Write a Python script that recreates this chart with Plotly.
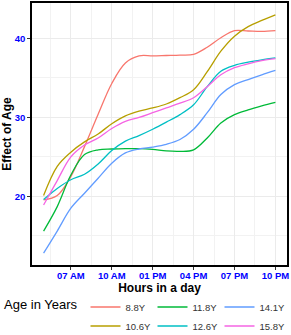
import plotly.graph_objects as go

# ---- data ----
hours = list(range(5, 23))  # 5 AM .. 10 PM

age_labels = ["8.8Y", "10.6Y", "11.8Y", "12.6Y", "14.1Y", "15.8Y"]

y_8_8 = [19.55, 20.1, 22.5, 26.3, 30.4, 34.3, 36.9, 37.8, 37.8, 37.85, 37.9, 38.0, 38.9, 40.1, 41.0, 40.95, 40.9, 41.0]
y_10_6 = [20.1, 23.8, 25.6, 26.9, 27.9, 29.2, 30.2, 30.8, 31.2, 31.7, 32.5, 33.5, 35.8, 38.4, 40.3, 41.5, 42.3, 43.0]
y_11_8 = [15.6, 18.7, 22.7, 25.3, 25.9, 26.0, 26.05, 26.05, 25.95, 25.75, 25.7, 25.9, 27.4, 29.3, 30.35, 30.95, 31.45, 31.9]
y_12_6 = [19.6, 21.0, 22.1, 22.8, 24.1, 25.8, 27.0, 27.7, 28.5, 29.4, 30.35, 31.6, 33.9, 35.85, 36.6, 37.0, 37.3, 37.55]
y_14_1 = [12.8, 15.6, 18.5, 20.4, 22.3, 24.2, 25.5, 26.0, 26.25, 26.6, 27.2, 28.5, 30.6, 32.9, 34.15, 34.8, 35.4, 35.95]
y_15_8 = [18.9, 22.0, 25.0, 26.5, 27.4, 28.6, 29.5, 30.0, 30.6, 31.2, 31.8, 32.5, 33.9, 35.4, 36.3, 36.8, 37.2, 37.45]

series = [y_8_8, y_10_6, y_11_8, y_12_6, y_14_1, y_15_8]

x_tick_vals = [7, 10, 13, 16, 19, 22]
x_tick_text = ["07 AM", "10 AM", "01 PM", "04 PM", "07 PM", "10 PM"]
y_tick_vals = [20, 30, 40]

colors = ["#F8766D", "#B79F00", "#00BA38", "#00BFC4", "#619CFF", "#F564E3"]
# legend filled column-wise (2 rows x 3 columns) like ggplot
ranks = [1, 4, 2, 5, 3, 6]

fig = go.Figure()
for name, vals, col, rk in zip(age_labels, series, colors, ranks):
    fig.add_trace(go.Scatter(
        x=hours, y=vals, mode="lines", name=name, legendrank=rk,
        line=dict(color=col, width=1.3, shape="spline", smoothing=1.0),
    ))

fig.update_layout(
    width=291, height=335,
    margin=dict(l=32, r=4, t=3, b=70, autoexpand=False),
    paper_bgcolor="white", plot_bgcolor="white",
    font=dict(family="Liberation Sans, Arial, sans-serif", color="#000"),
    showlegend=True,
    legend=dict(
        orientation="h", x=1.0, xanchor="right", y=-0.105, yanchor="top",
        entrywidth=22, entrywidthmode="pixels",
        title=dict(text="Age in Years", side="left", font=dict(size=13, color="#000")),
        font=dict(size=9.5, color="#333"),
        bgcolor="rgba(0,0,0,0)",
    ),
)

fig.update_xaxes(
    range=[4.15, 22.85], automargin=False,
    tickmode="array", tickvals=x_tick_vals, ticktext=x_tick_text,
    tickfont=dict(size=9.5, color="#0000FF", weight="bold"),
    ticks="outside", ticklen=3, tickcolor="#333", tickwidth=1,
    ticklabelstandoff=-2,
    showgrid=True, gridcolor="#EBEBEB", gridwidth=1,
    minor=dict(tickmode="linear", tick0=5.5, dtick=3, showgrid=True,
               gridcolor="#F2F2F2", gridwidth=0.6, ticks=""),
    zeroline=False,
    showline=True, mirror=True, linecolor="#000", linewidth=1.5,
    title=dict(text="Hours in a day", font=dict(size=12, weight="bold", color="#000"), standoff=0),
)
fig.update_yaxes(
    range=[11.3, 44.5], automargin=False,
    tickmode="array", tickvals=y_tick_vals,
    tickfont=dict(size=9.5, color="#0000FF", weight="bold"),
    ticks="outside", ticklen=3, tickcolor="#333", tickwidth=1,
    showgrid=True, gridcolor="#EBEBEB", gridwidth=1,
    minor=dict(tickmode="linear", tick0=15, dtick=10, showgrid=True,
               gridcolor="#F2F2F2", gridwidth=0.6, ticks=""),
    zeroline=False,
    showline=True, mirror=True, linecolor="#000", linewidth=1.5,
    title=dict(text="Effect of Age", font=dict(size=12, weight="bold", color="#000"), standoff=2),
)

fig.write_html("out.html", config={"displayModeBar": False},
               post_script="document.body.style.margin='0px';")
